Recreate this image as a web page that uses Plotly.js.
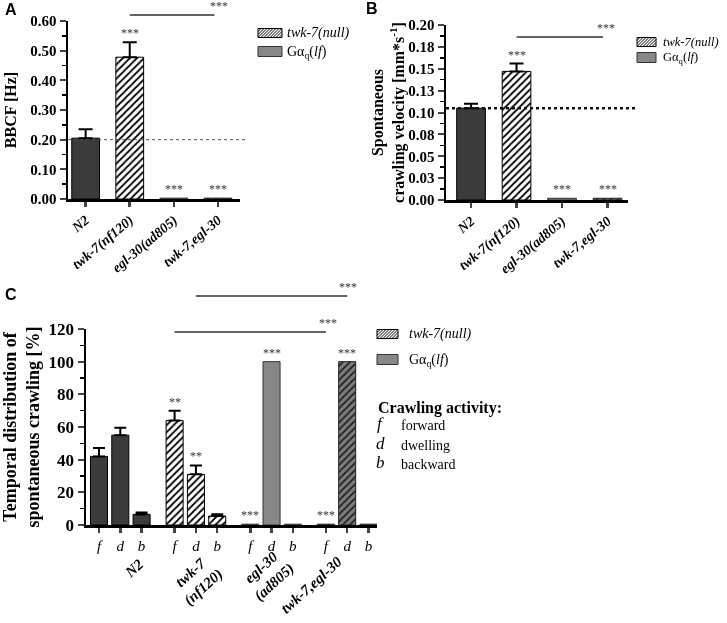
<!DOCTYPE html>
<html><head><meta charset="utf-8">
<script src="https://cdn.plot.ly/plotly-3.0.1.min.js"></script>
<style>html,body{margin:0;padding:0;background:#fff}#chart{width:727px;height:623px;filter:grayscale(1)}</style>
</head><body><div id="chart"></div>
<script>
// ---------- data ----------
const genotypes = ['N2', 'twk-7(nf120)', 'egl-30(ad805)', 'twk-7,egl-30'];
const bbcfMean = [0.205, 0.478, 0.003, 0.003];
const bbcfSem = [0.030, 0.050, 0, 0];
const bbcfStars = ['', '***', '***', '***'];
const bbcfRef = 0.20;

const velMean = [0.105, 0.147, 0.002, 0.002];
const velSem = [0.005, 0.009, 0, 0];
const velStars = ['', '***', '***', '***'];
const velRef = 0.105;
const velTickVals = [0, 0.025, 0.05, 0.075, 0.1, 0.125, 0.15, 0.175, 0.2];
const velTickText = ['0.00', '0.03', '0.05', '0.08', '0.10', '0.13', '0.15', '0.18', '0.20'];

const activities = ['f', 'd', 'b'];
const activityWords = ['forward', 'dwelling', 'backward'];
const crawlGroups = ['N2', 'twk-7<br>(nf120)', 'egl-30<br>(ad805)', 'twk-7,egl-30'];
const crawlN2 = [42, 55, 6.5];
const crawlN2Sem = [5.2, 4.5, 1.2];
const crawlTwk = [64, 31, 5.5];
const crawlTwkSem = [6, 5.5, 1.1];
const crawlEgl = [0.5, 100, 0.5];
const crawlEglSem = [0, 0, 0];
const crawlDouble = [0.5, 100, 0.5];
const crawlDoubleSem = [0, 0, 0];
const crawlStars = [['', '', ''], ['**', '**', ''], ['***', '***', ''], ['***', '***', '']];

const legendLabels = ['<i>twk-7(null)</i>', 'Gα<sub>q</sub>(<i>lf</i>)'];

// ---------- styling ----------
const SERIF = 'Liberation Serif, Times New Roman, serif';
const SANS = 'Liberation Sans, Arial, sans-serif';
const styles = [
  {color: '#3b3b3b', line: {color: '#000', width: 1}},
  {color: '#ffffff', pattern: {shape: '/', fgcolor: '#000', bgcolor: '#fff', size: 5, solidity: 0.35}, line: {color: '#000', width: 1}},
  {color: '#878787', line: {color: '#333', width: 1}},
  {color: '#7a7a7a', pattern: {shape: '/', fgcolor: '#222', bgcolor: '#7d7d7d', size: 5, solidity: 0.35}, line: {color: '#222', width: 1}}
];
const W = 727, H = 623;
const px = v => v / W, py = v => 1 - v / H;
const starFont = {family: SERIF, size: 12, color: '#333'};

const traces = [];
const annotations = [];
const shapes = [];

function errY(sem, w) {
  const any = sem.some(s => s > 0);
  return {type: 'data', array: sem, arrayminus: sem.map(() => 0), symmetric: false,
          visible: any, color: '#000', thickness: 2, width: w};
}

// ---------- Panel A ----------
genotypes.forEach((g, k) => {
  traces.push({type: 'bar', x: [g], y: [bbcfMean[k]], xaxis: 'x', yaxis: 'y', width: 0.63,
    marker: styles[k], error_y: errY([bbcfSem[k]], 7), showlegend: false, hoverinfo: 'skip'});
  if (bbcfStars[k]) annotations.push({xref: 'x', yref: 'y', x: g, y: bbcfMean[k] + bbcfSem[k],
    text: bbcfStars[k], showarrow: false, yanchor: 'bottom', font: starFont});
});
// ---------- Panel B ----------
genotypes.forEach((g, k) => {
  traces.push({type: 'bar', x: [g], y: [velMean[k]], xaxis: 'x2', yaxis: 'y2', width: 0.63,
    marker: styles[k], error_y: errY([velSem[k]], 7), showlegend: false, hoverinfo: 'skip'});
  if (velStars[k]) annotations.push({xref: 'x2', yref: 'y2', x: g, y: velMean[k] + velSem[k],
    text: velStars[k], showarrow: false, yanchor: 'bottom', font: starFont});
});
// ---------- Panel C ----------
const groupStride = 3.55;
const pos = (g, i) => g * groupStride + i;
const crawlMeans = [crawlN2, crawlTwk, crawlEgl, crawlDouble];
const crawlSems = [crawlN2Sem, crawlTwkSem, crawlEglSem, crawlDoubleSem];
const groupLabelShift = [[14, 9], [1, -3], [-4, 2], [-36, -8]];
const cTickVals = [], cTickText = [];
crawlMeans.forEach((vals, g) => {
  const xs = activities.map((a, i) => pos(g, i));
  xs.forEach((x, i) => { cTickVals.push(x); cTickText.push('<i>' + activities[i] + '</i>'); });
  traces.push({type: 'bar', x: xs, y: vals, xaxis: 'x3', yaxis: 'y3', width: 0.8,
    marker: styles[g], error_y: errY(crawlSems[g], 6), showlegend: false, hoverinfo: 'skip'});
  vals.forEach((v, i) => {
    if (crawlStars[g][i]) annotations.push({xref: 'x3', yref: 'y3', x: xs[i], y: v + crawlSems[g][i],
      text: crawlStars[g][i], showarrow: false, yanchor: 'bottom', font: starFont});
  });
  annotations.push({xref: 'x3', yref: 'paper', x: pos(g, 1), y: py(577), text: crawlGroups[g],
    textangle: -42, showarrow: false, xanchor: 'center', yanchor: 'middle',
    xshift: groupLabelShift[g][0], yshift: groupLabelShift[g][1],
    font: {family: SERIF, size: 15, weight: 'bold', style: 'italic', color: '#000'}});
});

// significance bars
const sigLine = {color: '#333', width: 1.3};
function sig(xref, x0, x1, yLine, xStar) {
  shapes.push({type: 'line', xref: xref, yref: 'paper', x0: x0, x1: x1, y0: py(yLine), y1: py(yLine), line: sigLine});
  annotations.push({xref: xref, yref: 'paper', x: xStar, y: py(yLine), yanchor: 'bottom', text: '***', showarrow: false, font: starFont});
}
sig('x', 1, 2.92, 15, 3.02);
sig('x2', 1, 2.9, 37, 2.97);
sig('x3', pos(1, 1), pos(3, 1), 296, pos(3, 1) + 0.05);
sig('x3', pos(1, 0), pos(3, 0), 332, pos(3, 0) + 0.1);

// reference dotted lines
shapes.push({type: 'line', xref: 'x domain', yref: 'y', x0: 0, x1: 1.04, y0: bbcfRef, y1: bbcfRef, line: {color: '#555', width: 1, dash: 'dot'}});
shapes.push({type: 'line', xref: 'x2 domain', yref: 'y2', x0: 0, x1: 1.05, y0: velRef, y1: velRef, line: {color: '#111', width: 2.5, dash: 'dot'}});

// panel letters
[['A', 3, 9], ['B', 364, 8], ['C', 3, 294]].forEach(([t, x, y]) => annotations.push({
  xref: 'paper', yref: 'paper', x: px(x), y: py(y), xanchor: 'left', yanchor: 'middle', text: '<b>' + t + '</b>',
  showarrow: false, font: {family: SANS, size: 16, color: '#000'}}));

// ---------- legends (drawn as keys) ----------
function hatchPath(x0, y0, w, h, s) {
  let d = '';
  for (let k = -h; k < w; k += s) {
    const t0 = Math.max(0, -k / h), t1 = Math.min(1, (w - k) / h);
    if (t1 <= t0) continue;
    const ax = x0 + k + t0 * h, ay = y0 + h - t0 * h;
    const bx = x0 + k + t1 * h, by = y0 + h - t1 * h;
    d += 'M' + px(ax).toFixed(5) + ',' + py(ay).toFixed(5) + 'L' + px(bx).toFixed(5) + ',' + py(by).toFixed(5);
  }
  return d;
}
function key(bx, bw, yA, yB, tx, fs) {
  const bh = 9;
  shapes.push({type: 'rect', xref: 'paper', yref: 'paper', x0: px(bx), x1: px(bx + bw), y0: py(yA - bh / 2), y1: py(yA + bh / 2),
    fillcolor: '#fff', line: {color: '#000', width: 1}});
  shapes.push({type: 'path', xref: 'paper', yref: 'paper', path: hatchPath(bx, yA - bh / 2, bw, bh, 3), line: {color: '#000', width: 1}});
  shapes.push({type: 'rect', xref: 'paper', yref: 'paper', x0: px(bx), x1: px(bx + bw), y0: py(yB - bh / 2 - 1), y1: py(yB + bh / 2),
    fillcolor: '#888', line: {color: '#333', width: 1}});
  [yA, yB].forEach((yy, i) => annotations.push({xref: 'paper', yref: 'paper', x: px(tx), y: py(yy), xanchor: 'left', yanchor: 'middle',
    text: legendLabels[i], showarrow: false, borderpad: 0, font: {family: SERIF, size: fs, color: '#000'}}));
}
key(258, 24, 33, 52, 286, 14);
key(637, 19, 42, 58, 662, 12.5);
key(377, 21, 334, 360, 408, 14);

// crawling activity key
annotations.push({xref: 'paper', yref: 'paper', x: px(376), y: py(408), xanchor: 'left', text: '<b>Crawling activity:</b>', showarrow: false, font: {family: SERIF, size: 16, color: '#000'}});
activities.forEach((a, i) => {
  const yy = 435 + i * 19.5;
  annotations.push({xref: 'paper', yref: 'paper', x: px(381), y: py(yy), text: '<i>' + a + '</i>', showarrow: false, font: {family: SERIF, size: 17, color: '#000'}});
  annotations.push({xref: 'paper', yref: 'paper', x: px(399), y: py(yy), xanchor: 'left', text: activityWords[i], showarrow: false, font: {family: SERIF, size: 14, color: '#000'}});
});

// ---------- axes ----------
const axLine = {showline: true, linecolor: '#000', linewidth: 2.5, showgrid: false, zeroline: false, automargin: false};
const xCat = {...axLine, type: 'category', categoryorder: 'array', categoryarray: genotypes, ticks: 'outside', ticklen: 5, tickwidth: 2.5,
  tickangle: -40, tickfont: {family: SERIF, size: 14, weight: 'bold', style: 'italic', color: '#000'}};
const yMinor = (d) => ({dtick: d, ticks: 'outside', ticklen: 3.5, tickwidth: 1.5, tickcolor: '#000'});
const titleFont = {family: SERIF, size: 16, weight: 'bold', color: '#000'};

const layout = {
  width: W, height: H, autosize: false, margin: {l: 0, r: 0, t: 0, b: 0}, showlegend: false,
  paper_bgcolor: '#fff', plot_bgcolor: 'rgba(0,0,0,0)', barmode: 'overlay',
  xaxis: {...xCat, domain: [px(68), px(240)], anchor: 'y', range: [-0.4, 3.5]},
  yaxis: {...axLine, domain: [py(199), py(21)], anchor: 'x', range: [0, 0.6], dtick: 0.1, tickformat: '.2f',
    ticks: 'outside', ticklen: 6, tickwidth: 2, minor: yMinor(0.05),
    tickfont: {family: SERIF, size: 15, weight: 'bold', color: '#000'},
    title: {text: 'BBCF [Hz]', font: titleFont, standoff: 10}},
  xaxis2: {...xCat, domain: [px(446), px(628)], anchor: 'y2', range: [-0.55, 3.45]},
  yaxis2: {...axLine, domain: [py(200), py(25)], anchor: 'x2', range: [0, 0.2], tickmode: 'array', tickvals: velTickVals, ticktext: velTickText,
    ticks: 'outside', ticklen: 6, tickwidth: 2, minor: yMinor(0.0125),
    tickfont: {family: SERIF, size: 15, weight: 'bold', color: '#000'},
    title: {text: 'Spontaneous<br>crawling velocity [mm*s<sup>-1</sup>]', font: titleFont, standoff: 0}},
  xaxis3: {...axLine, domain: [px(86), px(377)], anchor: 'y3', range: [-0.61, 13.05], tickmode: 'array', tickvals: cTickVals, ticktext: cTickText,
    ticks: 'outside', ticklen: 5, tickwidth: 2.5, tickfont: {family: SERIF, size: 15, color: '#000'}},
  yaxis3: {...axLine, domain: [py(525), py(329)], anchor: 'x3', range: [0, 120], dtick: 20,
    ticks: 'outside', ticklen: 6, tickwidth: 2, minor: yMinor(10),
    tickfont: {family: SERIF, size: 17, weight: 'bold', color: '#000'},
    title: {text: 'Temporal distribution of<br>spontaneous crawling [%]', font: {...titleFont, size: 18}, standoff: 8}},
  annotations: annotations,
  shapes: shapes
};

Plotly.newPlot('chart', traces, layout, {displayModeBar: false, staticPlot: true});
</script>
</body></html>
